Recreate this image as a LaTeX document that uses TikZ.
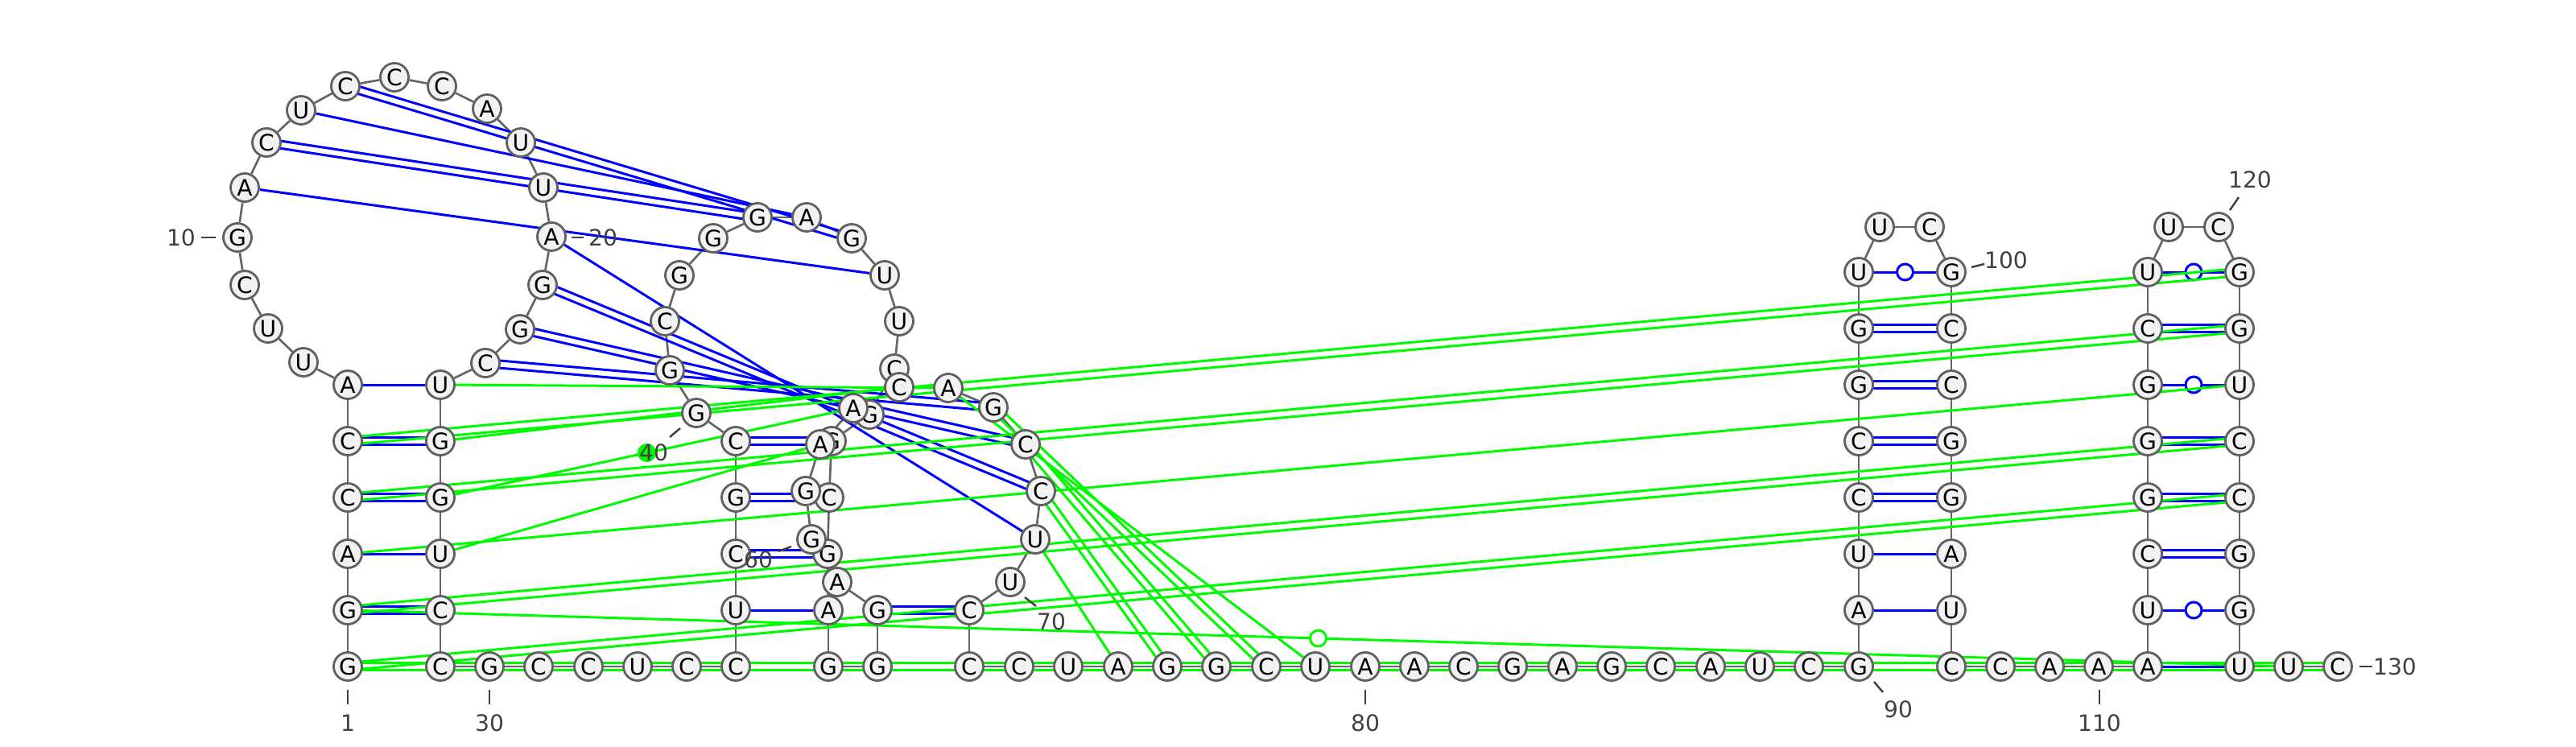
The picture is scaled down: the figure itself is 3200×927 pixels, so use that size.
\documentclass[tikz,border=0pt]{standalone}
\usepackage{fontspec}
\setmainfont{DejaVu Sans}
\usetikzlibrary{calc}
\pgfdeclarelayer{background}
\pgfsetlayers{background,main}
\definecolor{ntfill}{RGB}{242,242,242}
\definecolor{ntline}{RGB}{96,96,96}
\definecolor{bbline}{RGB}{100,100,100}
\definecolor{bpblue}{RGB}{0,0,255}
\definecolor{tpgreen}{RGB}{0,250,0}
\definecolor{numgray}{RGB}{64,64,64}
\tikzset{
  nt/.style={circle, draw=ntline, fill=ntfill, line width=0.8pt, minimum size=0.35cm, inner sep=0pt, font=\fontsize{8}{8}\selectfont},
  backbone/.style={draw=bbline, line width=0.75pt},
  bp/.style={draw=bpblue, line width=0.85pt},
  tp/.style={draw=tpgreen, line width=0.85pt},
  wob/.style={circle, fill=white, minimum size=0.2cm, inner sep=0pt},
  numlabel/.style={text=numgray, inner sep=0pt, font=\fontsize{8}{8}\selectfont},
  numtick/.style={draw=numgray, line width=0.7pt},
}
% pair lines: double (GC), single (AU), wobble (GU)
\newcommand{\dblpair}[3]{%
  \draw[#3] ($(n#1)!1.3pt!90:(n#2)$) -- ($(n#2)!1.3pt!-90:(n#1)$);
  \draw[#3] ($(n#1)!1.3pt!-90:(n#2)$) -- ($(n#2)!1.3pt!90:(n#1)$);}
\newcommand{\sglpair}[3]{\draw[#3] (n#1) -- (n#2);}
\newcommand{\wobpair}[3]{\draw[#3] (n#1) -- (n#2) node[midway, wob, #3] {};}
\begin{document}
\begin{tikzpicture}[x=0.01cm, y=-0.01cm]
    \useasboundingbox (0,0) rectangle (3200,927);

    % Left stem and big loop
    \foreach \nn/\nb/\nx/\ny in {1/G/432/828, 2/G/432/758, 3/A/432/688, 4/C/432/618, 5/C/432/548, 6/A/432/478,
        7/U/377/450, 8/U/333/408, 9/C/304/354, 10/G/295/295, 11/A/304/233, 12/C/331/177, 13/U/374/137,
        14/C/429/107, 15/C/490/96, 16/C/549/107, 17/A/605/135, 18/U/647/177, 19/U/675/233, 20/A/685/294,
        21/G/674/354, 22/G/646/409, 23/C/603/451,
        24/U/547/478, 25/G/547/548, 26/G/547/618, 27/U/547/688, 28/C/547/758, 29/C/547/828,
        30/G/608/828, 31/C/669/828, 32/C/731/828, 33/U/792/828, 34/C/853/828, 35/C/914/828}
        {\node[nt] (n\nn) at (\nx,\ny) {\nb};}

    % Middle domain
    \foreach \nn/\nb/\nx/\ny in {36/U/914/758, 37/C/914/688, 38/G/914/618, 39/C/914/548, 40/G/865/513,
        41/G/832/460, 42/C/826/399, 43/G/844/342, 44/G/886/296, 45/G/941/270, 46/A/1002/270,
        47/G/1058/296, 48/U/1099/342, 49/U/1117/399, 50/C/1111/458, 51/G/1080/515, 52/G/1033/548,
        53/C/1030/618, 54/G/1028/688, 55/A/1029/758, 56/G/1029/828, 57/G/1090/828, 58/G/1090/758,
        59/A/1040/723, 60/G/1008/670, 61/G/1001/610, 62/A/1019/552, 63/A/1060/507, 64/C/1117/481,
        65/A/1178/482, 66/G/1234/506, 67/C/1274/552, 68/C/1293/610, 69/U/1286/670, 70/U/1255/723,
        71/C/1204/758, 72/C/1204/828}
        {\node[nt] (n\nn) at (\nx,\ny) {\nb};}

    % Linker
    \foreach \nn/\nb/\nx/\ny in {73/C/1266/828, 74/U/1327/828, 75/A/1389/828, 76/G/1450/828, 77/G/1511/828,
        78/C/1573/828, 79/U/1634/828, 80/A/1696/828, 81/A/1757/828, 82/C/1818/828, 83/G/1879/828,
        84/A/1941/828, 85/G/2002/828, 86/C/2063/828, 87/A/2125/828, 88/U/2186/828, 89/C/2247/828}
        {\node[nt] (n\nn) at (\nx,\ny) {\nb};}

    % Hairpins
    \foreach \nn/\nb/\nx/\ny in {90/G/2309/828, 91/A/2309/758, 92/U/2309/688, 93/C/2309/618, 94/C/2309/548,
        95/G/2309/478, 96/G/2309/408, 97/U/2309/338, 98/U/2335/282, 99/C/2397/282, 100/G/2424/338,
        101/C/2424/408, 102/C/2424/478, 103/G/2424/548, 104/G/2424/618, 105/A/2424/688, 106/U/2424/758,
        107/C/2424/828, 108/C/2485/828, 109/A/2546/828, 110/A/2607/828,
        111/A/2668/828, 112/U/2668/758, 113/C/2668/688, 114/G/2668/618, 115/G/2668/548, 116/G/2668/478,
        117/C/2668/408, 118/U/2668/338, 119/U/2694/282, 120/C/2756/282, 121/G/2782/338, 122/G/2782/408,
        123/U/2782/478, 124/C/2782/548, 125/C/2782/618, 126/G/2782/688, 127/G/2782/758, 128/U/2782/828,
        129/U/2843/828, 130/C/2904/828}
        {\node[nt] (n\nn) at (\nx,\ny) {\nb};}

    \begin{pgfonlayer}{background}
        % Backbone
        \foreach \k [evaluate=\k as \kk using int(\k+1)] in {1,...,129}
            {\draw[backbone] (n\k) -- (n\kk);}

        % Base pairs
        \foreach \pa/\pb in {6/24, 3/27, 11/48, 13/46, 20/69, 36/55, 91/106, 92/105, 111/128}
            {\sglpair{\pa}{\pb}{bp}}
        \foreach \pa/\pb in {5/25, 4/26, 2/28, 12/45, 14/47, 21/68, 22/67, 23/66, 37/54, 38/53, 39/52,
            58/71, 93/104, 94/103, 95/102, 96/101, 113/126, 114/125, 115/124, 117/122}
            {\dblpair{\pa}{\pb}{bp}}
        \foreach \pa/\pb in {97/100, 112/127, 116/123, 118/121}
            {\wobpair{\pa}{\pb}{bp}}

        % Tertiary interactions
        \foreach \pa/\pb in {1/125, 1/130, 2/124, 4/122, 5/121, 66/78, 67/77, 68/76}
            {\dblpair{\pa}{\pb}{tp}}
        \foreach \pa/\pb in {3/123, 24/65, 25/64, 27/62, 65/79, 69/75}
            {\sglpair{\pa}{\pb}{tp}}
        \wobpair{2}{129}{tp}
        \draw[tp] (n26) -- (n63) node[midway, wob, tp, fill=tpgreen] {};
    \end{pgfonlayer}

    % Numbering
    \foreach \lab/\ax/\ay/\bx/\by/\lx/\ly in {1/432/857/432/875/432/898, 10/268/295/250/295/225/295,
        20/710/295/725/295/749/295, 30/608/857/608/875/608/898, 40/845/532/832/543/812/562,
        60/983/679/967/685/942/695, 70/1273/742/1287/753/1306/772, 80/1696/857/1696/875/1696/898,
        90/2328/847/2339/860/2358/881, 100/2449/332/2465/328/2492/323, 110/2608/857/2608/875/2608/898,
        120/2770/261/2781/245/2795/223, 130/2931/828/2947/828/2975/828} {
        \coordinate (ta\lab) at (\ax,\ay);
        \coordinate (tb\lab) at (\bx,\by);
        \draw[numtick] (ta\lab) -- (tb\lab);
        \node[numlabel] (lab\lab) at (\lx,\ly) {\lab};
    }
\end{tikzpicture}
\end{document}
